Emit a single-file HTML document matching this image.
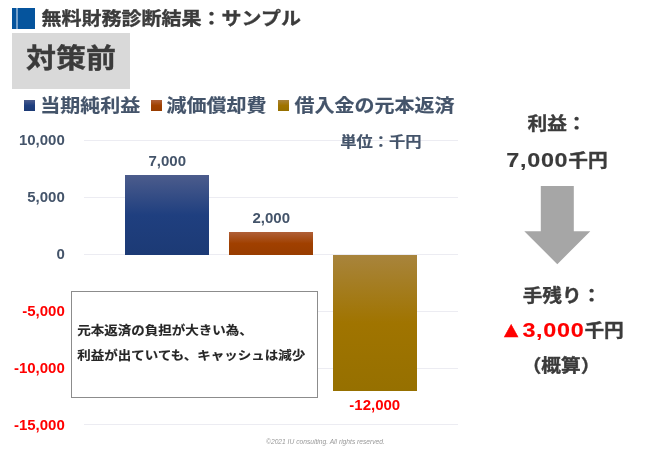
<!DOCTYPE html>
<html lang="ja">
<head>
<meta charset="utf-8">
<title>無料財務診断結果：サンプル</title>
<style>
html,body{margin:0;padding:0;background:#fff;}
body{width:650px;height:450px;position:relative;overflow:hidden;font-family:"Liberation Sans","Noto Sans CJK JP",sans-serif;}
.abs{position:absolute;white-space:nowrap;line-height:1;}
.jp{font-family:"Liberation Sans","Noto Sans CJK JP",sans-serif;font-weight:bold;transform:scaleY(.9);transform-origin:50% 50%;-webkit-text-stroke:.4px currentColor;}
.title{left:41.5px;top:9.4px;font-size:20px;color:#3b3b3b;}
.icon{left:12.3px;top:8.2px;width:22.7px;height:20.4px;background:#05549d;}
.icon i{position:absolute;left:3.8px;top:0;width:1.9px;height:100%;background:#74a0cb;}
.tag{left:12.2px;top:33px;width:117.9px;height:55.8px;background:#d9d9d9;}
.tagt{left:26px;top:43.5px;font-size:30px;color:#3b3b3b;}
.lg{font-size:20px;color:#44546a;top:96px;-webkit-text-stroke:.2px currentColor;}
.sq{width:11px;height:11px;top:100px;}
.ax{font-size:15px;font-weight:bold;color:#44546a;width:64.8px;left:0;text-align:right;}

.grid{left:83.5px;width:374.5px;height:1px;background:#ececf2;}
.bar{width:83.5px;}
.dl{font-size:15px;font-weight:bold;color:#44546a;text-align:center;width:83.5px;}
.unit{-webkit-text-stroke:.2px currentColor;left:340.2px;top:133.6px;font-size:16.3px;color:#44546a;}
.box{left:71px;top:291px;width:247px;height:107px;border:1px solid #8c8c8c;background:#fff;box-sizing:border-box;}
.bt{left:77.3px;font-size:13.5px;color:#262626;-webkit-text-stroke:.15px currentColor;}
.rt{font-size:19.7px;color:#3b3b3b;text-align:center;}
.num{font-family:"Liberation Sans",sans-serif;font-size:23.4px;letter-spacing:.7px;line-height:0;-webkit-text-stroke:.15px currentColor;}
.neg{color:#ff0000;}
.tri{font-size:24px;line-height:0;margin-right:-.6px;}
.foot{left:266px;top:439.3px;font-size:6.68px;font-style:italic;color:#999;font-weight:normal;}
</style>
</head>
<body>
<div class="abs icon"><i></i></div>
<div class="abs jp title">無料財務診断結果：サンプル</div>
<div class="abs tag"></div>
<div class="abs jp tagt">対策前</div>

<div class="abs sq" style="left:24px;background:linear-gradient(#4c5c8c,#1f3f7f 50%,#1c3a75)"></div>
<div class="abs jp lg" style="left:40.3px">当期純利益</div>
<div class="abs sq" style="left:150.5px;background:linear-gradient(#b06038,#a04000 50%,#983c00)"></div>
<div class="abs jp lg" style="left:166.5px">減価償却費</div>
<div class="abs sq" style="left:277.5px;background:linear-gradient(#a8843c,#a07400 50%,#967000)"></div>
<div class="abs jp lg" style="left:294.5px">借入金の元本返済</div>

<div class="abs grid" style="top:140px"></div>
<div class="abs grid" style="top:197px"></div>
<div class="abs grid" style="top:254px"></div>
<div class="abs grid" style="top:311px"></div>
<div class="abs grid" style="top:368px"></div>
<div class="abs grid" style="top:424px"></div>

<div class="abs ax" style="top:132.2px">10,000</div>
<div class="abs ax" style="top:189.2px">5,000</div>
<div class="abs ax" style="top:246.2px">0</div>
<div class="abs ax neg" style="top:302.7px">-5,000</div>
<div class="abs ax neg" style="top:360.4px">-10,000</div>
<div class="abs ax neg" style="top:417px">-15,000</div>

<div class="abs jp unit">単位：千円</div>

<div class="abs bar" style="left:125.3px;top:175px;height:79.5px;width:83.7px;background:linear-gradient(#4c5c8c,#1f3f7f 50%,#1c3a75)"></div>
<div class="abs bar" style="left:229px;top:231.5px;height:23px;background:linear-gradient(#b06038,#a04000 50%,#983c00)"></div>
<div class="abs bar" style="left:333px;top:254.5px;height:136.5px;background:linear-gradient(#a8843c,#a07400 50%,#967000)"></div>

<div class="abs dl" style="left:125.5px;top:153.3px">7,000</div>
<div class="abs dl" style="left:229.5px;top:210.3px">2,000</div>
<div class="abs dl neg" style="left:333px;top:397.3px">-12,000</div>

<div class="abs box"></div>
<div class="abs jp bt" style="top:324px">元本返済の負担が大きい為、</div>
<div class="abs jp bt" style="top:348.5px">利益が出ていても、キャッシュは減少</div>

<div class="abs jp rt" style="left:457px;width:200px;top:115px">利益：</div>
<div class="abs jp rt" style="left:457px;width:200px;top:152px"><span class="num">7,000</span>千円</div>

<svg class="abs" style="left:520px;top:180px" width="80" height="90" viewBox="520 180 80 90"><polygon points="540.8,186 573.8,186 573.8,231.2 590.3,231.2 557.3,264.2 524.3,231.2 540.8,231.2" fill="#a6a6a6"/></svg>

<div class="abs jp rt" style="left:462px;width:200px;top:286.5px">手残り：</div>
<div class="abs jp rt" style="left:461.5px;width:200px;top:322px"><span class="neg"><span class="tri">▲</span><span class="num">3,000</span></span>千円</div>
<div class="abs jp rt" style="left:461px;width:200px;top:357.2px">（概算）</div>

<div class="abs foot">©2021 IU consulting. All rights reserved.</div>
</body>
</html>
